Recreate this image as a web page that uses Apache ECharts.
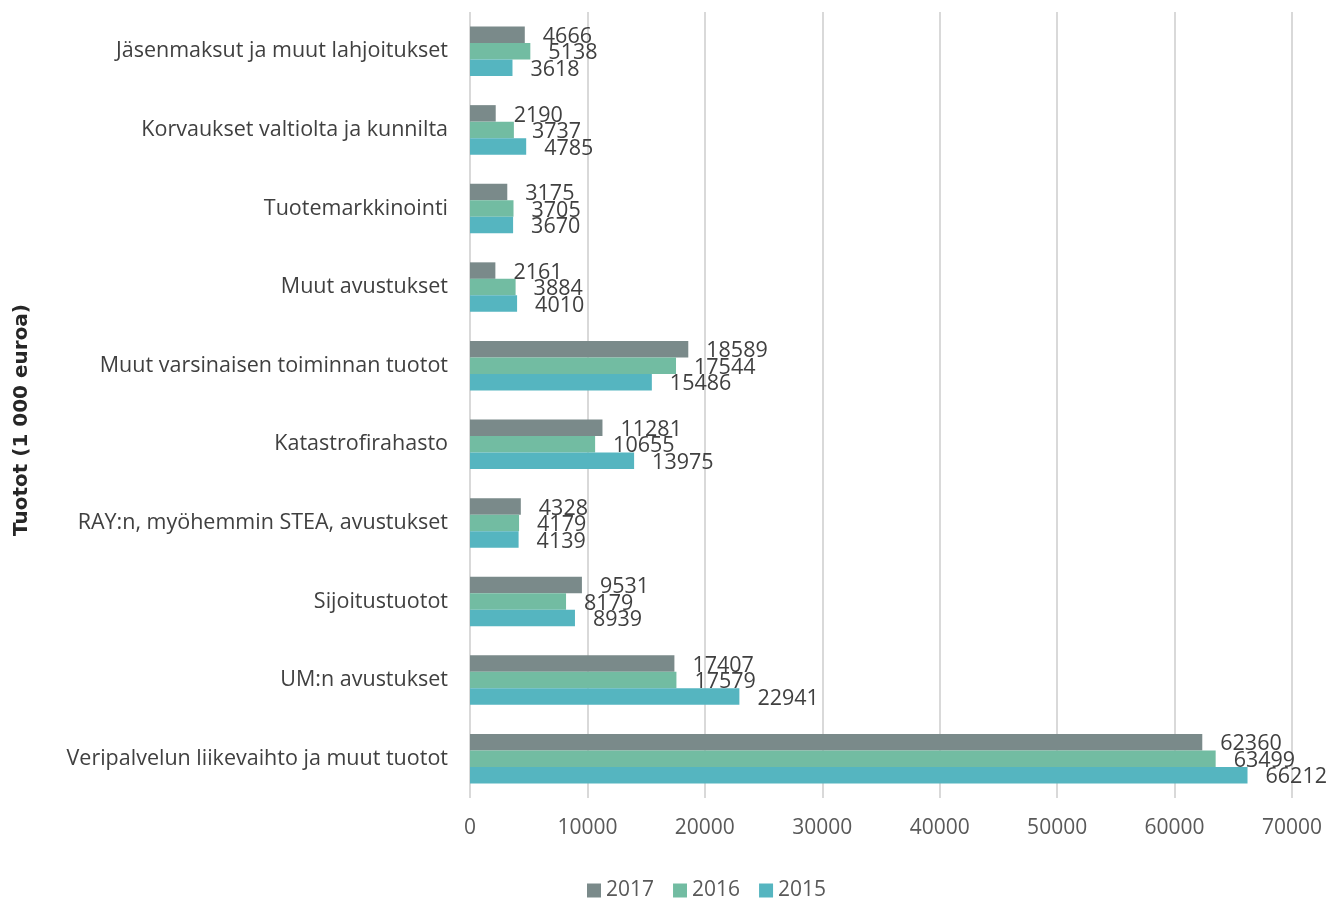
<!DOCTYPE html>
<html>
<head>
<meta charset="utf-8">
<script src="https://cdn.jsdelivr.net/npm/echarts@6/dist/echarts.min.js"></script>
<style>
  html, body { margin: 0; padding: 0; background: #fff; }
  #chart { width: 1330px; height: 898px; }
</style>
</head>
<body>
<div id="chart"></div>
<script>
// categories, top to bottom
const categories = [
  'Jäsenmaksut ja muut lahjoitukset',
  'Korvaukset valtiolta ja kunnilta',
  'Tuotemarkkinointi',
  'Muut avustukset',
  'Muut varsinaisen toiminnan tuotot',
  'Katastrofirahasto',
  'RAY:n, myöhemmin STEA, avustukset',
  'Sijoitustuotot',
  'UM:n avustukset',
  'Veripalvelun liikevaihto ja muut tuotot'
]
const values2017 = [4666, 2190, 3175, 2161, 18589, 11281, 4328, 9531, 17407, 62360]
const values2016 = [5138, 3737, 3705, 3884, 17544, 10655, 4179, 8179, 17579, 63499]
const values2015 = [3618, 4785, 3670, 4010, 15486, 13975, 4139, 8939, 22941, 66212]

const font = '"Open Sans", Lato, sans-serif'

const chart = echarts.init(document.getElementById('chart'))

const makeSeries = (name, data, color) => ({
  name: name,
  type: 'bar',
  data: data,
  barGap: '0%',
  barCategoryGap: '37%',
  itemStyle: { color: color },
  label: {
    show: true,
    position: 'right',
    distance: 18,
    offset: [0, 2],
    fontFamily: font,
    fontSize: 21.5,
    color: '#404040'
  }
})

chart.setOption({
  animation: false,
  textStyle: { fontFamily: font },
  grid: { left: 470, right: 38, top: 12, bottom: 100 },
  legend: {
    left: 582,
    top: 875,
    itemWidth: 14,
    itemHeight: 14,
    itemGap: 19,
    icon: 'rect',
    textStyle: { fontSize: 21, color: '#595959', fontFamily: font },
    data: ['2017', '2016', '2015']
  },
  graphic: [{
    type: 'text',
    x: 22,
    y: 420,
    rotation: Math.PI / 2,
    style: {
      text: 'Tuotot (1 000 euroa)',
      font: 'bold 20px "DejaVu Sans", sans-serif',
      fill: '#262626',
      align: 'center',
      verticalAlign: 'middle'
    }
  }],
  xAxis: {
    type: 'value',
    min: 0,
    max: 70000,
    interval: 10000,
    axisLine: { show: false },
    axisTick: { show: false },
    axisLabel: {
      fontSize: 21, color: '#595959', margin: 20, fontFamily: font,
      formatter: v => String(v)
    },
    splitLine: { lineStyle: { color: '#d9d9d9', width: 2 } }
  },
  yAxis: {
    type: 'category',
    inverse: true,
    data: categories,
    axisLine: { show: false },
    axisTick: { show: false },
    axisLabel: {
      fontSize: 21.5, color: '#404040', margin: 22, fontFamily: font,
      padding: [5, 0, 0, 0]
    }
  },
  series: [
    makeSeries('2017', values2017, '#7a8a8a'),
    makeSeries('2016', values2016, '#72bca2'),
    makeSeries('2015', values2015, '#55b5c0')
  ]
})
</script>
</body>
</html>
